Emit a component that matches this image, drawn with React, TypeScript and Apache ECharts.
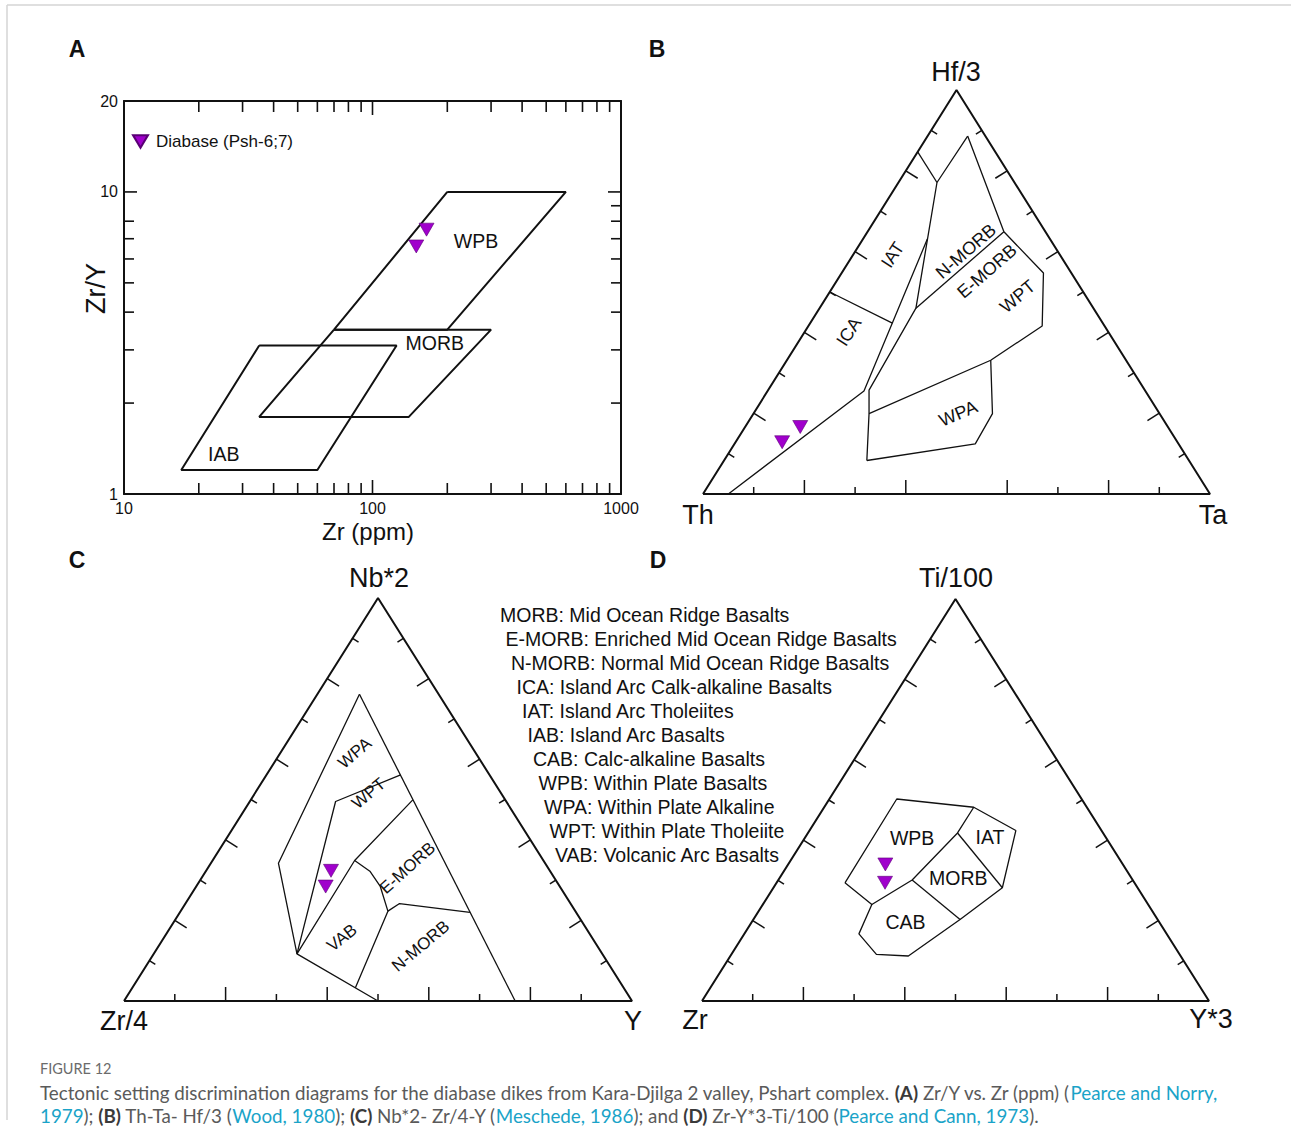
import React, { useEffect, useRef } from 'react';
import * as echarts from 'echarts';

const FONT = "'Liberation Sans', Arial, Helvetica, sans-serif";
const CAPTION_FONT = "Lato, 'Open Sans', 'Liberation Sans', sans-serif";
const INK = '#111111';
const SAMPLE_NAME = 'Diabase (Psh-6;7)';
const SAMPLE_FILL = '#a000cc';
const SAMPLE_EDGE = '#5a0075';
const DOWN_TRIANGLE = 'path://M0,0L20,0L10,17Z';

// ---------------- Panel A : Zr/Y vs Zr (ppm) ----------------
const aZrRange = [10, 1000];
const aZrYRange = [1, 20];
const aFieldWPB = [[200, 10], [600, 10], [200, 3.5], [70, 3.5], [200, 10]];
const aFieldMORB = [[70, 3.5], [300, 3.5], [140, 1.8], [35, 1.8], [70, 3.5]];
const aFieldIAB = [[35, 3.1], [125, 3.1], [60, 1.2], [17, 1.2], [35, 3.1]];
const aSamples = [[165, 7.5], [150, 6.6]];
const aFieldLabels = [
  { text: 'WPB', at: [261, 6.9] },
  { text: 'MORB', at: [178, 3.15] },
  { text: 'IAB', at: [25.2, 1.36] },
];
const aZrMinorTicks = [20, 30, 40, 50, 60, 70, 80, 90, 200, 300, 400, 500, 600, 700, 800, 900];
const aZrMajorTicks = [100];
const aZrYMinorTicksLeft = [2, 3, 4, 5, 6, 7, 8];
const aZrYMinorTicksRight = [2, 3, 4, 5, 6, 7, 8, 9];
const aZrYMajorTicks = [10];

// ---------------- Ternary panels: points are [top, left, right] in % ----------------
const TRI_TOP = [100, 0, 0];
const TRI_LEFT = [0, 100, 0];
const TRI_RIGHT = [0, 0, 100];
const TERN_TICKS = [10, 20, 30, 40, 50, 60, 70, 80, 90];

// Panel B : Th (left) - Ta (right) - Hf/3 (top)
const bFieldLines = [
  [[0, 95, 5], [25.5, 55.5, 19.0], [63.1, 24.2, 12.7]],
  [[88.6, 3.5, 7.9], [77.1, 15.3, 7.6], [46.0, 35.0, 19.0], [25.7, 54.4, 19.9], [19.9, 57.3, 22.8], [8.3, 63.6, 28.2]],
  [[77.1, 15.3, 7.6], [84.7, 15.3, 0]],
  [[50, 50, 0], [42.3, 41.5, 16.2]],
  [[46.0, 35.0, 19.0], [64.9, 8.2, 26.9]],
  [[88.6, 3.5, 7.9], [64.9, 8.2, 26.9], [54.7, 5.5, 39.8], [41.6, 12.3, 46.1], [33.1, 26.7, 40.2], [19.9, 57.3, 22.8]],
  [[33.1, 26.7, 40.2], [19.9, 33.0, 47.2], [12.4, 40.1, 47.5], [8.3, 63.6, 28.2]],
];
const bSamples = [[12.8, 77.9, 9.2], [16.6, 72.6, 10.9]];
const bFieldLabels = [
  { text: 'IAT', at: [59.2, 33.0, 7.8], angle: 57 },
  { text: 'ICA', at: [40.2, 51.2, 8.7], angle: 57 },
  { text: 'N-MORB', at: [60.1, 18.1, 21.8], angle: 41 },
  { text: 'E-MORB', at: [55.1, 16.4, 28.4], angle: 41 },
  { text: 'WPT', at: [48.9, 13.5, 37.6], angle: 40 },
  { text: 'WPA', at: [19.9, 39.7, 40.4], angle: 23 },
];
const bBottomTicks = [10, 20, 30, 40, 60, 70, 80, 90];

// Panel C : Zr/4 (left) - Y (right) - Nb*2 (top)
const cFieldLines = [
  [[76.1, 15.6, 8.3], [34.2, 52.5, 13.3], [11.7, 60.1, 28.2], [0, 50, 50]],
  [[76.1, 15.6, 8.3], [0, 23, 77]],
  [[56.1, 17.5, 26.4], [49.5, 33.6, 16.9], [11.7, 60.1, 28.2]],
  [[49.9, 18.2, 31.9], [34.9, 37.2, 28.0], [11.7, 60.1, 28.2]],
  [[34.9, 37.2, 28.0], [32.2, 35.5, 32.3], [28.4, 35.3, 36.2], [22.3, 36.9, 40.8], [3.3, 52.8, 43.9]],
  [[22.3, 36.9, 40.8], [24.2, 33.7, 42.2], [22.0, 20.9, 57.1]],
];
const cSamples = [[32.3, 43.1, 24.6], [28.4, 46.1, 25.5]];
const cFieldLabels = [
  { text: 'WPA', at: [61.5, 23.8, 14.7], angle: 40 },
  { text: 'WPT', at: [51.5, 26.1, 22.4], angle: 40 },
  { text: 'E-MORB', at: [33.0, 27.7, 39.3], angle: 42 },
  { text: 'VAB', at: [15.7, 49.3, 35.1], angle: 38 },
  { text: 'N-MORB', at: [13.6, 34.8, 51.6], angle: 40 },
];

// Panel D : Zr (left) - Y*3 (right) - Ti/100 (top)
const dFieldLines = [
  [[29.4, 57.1, 13.5], [50.3, 36.5, 13.3], [48.2, 22.3, 29.5], [42.4, 16.9, 40.7], [28.2, 26.7, 45.2],
   [20.3, 39.0, 40.8], [11.2, 53.7, 35.1], [11.6, 59.8, 28.6], [16.7, 60.7, 22.6], [24.0, 54.5, 21.5], [29.4, 57.1, 13.5]],
  [[48.2, 22.3, 29.5], [41.8, 28.7, 29.5], [30.1, 43.5, 26.4], [24.0, 54.5, 21.5]],
  [[41.8, 28.7, 29.5], [28.2, 26.7, 45.2]],
  [[30.1, 43.5, 26.4], [20.3, 39.0, 40.8]],
];
const dSamples = [[34.0, 46.9, 19.2], [29.4, 49.2, 21.4]];
const dFieldLabels = [
  { text: 'WPB', at: [40.6, 38.2, 21.1], angle: 0 },
  { text: 'IAT', at: [40.8, 22.8, 36.4], angle: 0 },
  { text: 'MORB', at: [30.7, 34.1, 35.2], angle: 0 },
  { text: 'CAB', at: [19.6, 50.0, 30.3], angle: 0 },
];

const abbreviations = [
  'MORB: Mid Ocean Ridge Basalts',
  'E-MORB: Enriched Mid Ocean Ridge Basalts',
  'N-MORB: Normal Mid Ocean Ridge Basalts',
  'ICA: Island Arc Calk-alkaline Basalts',
  'IAT: Island Arc Tholeiites',
  'IAB: Island Arc Basalts',
  'CAB: Calc-alkaline Basalts',
  'WPB: Within Plate Basalts',
  'WPA: Within Plate Alkaline',
  'WPT: Within Plate Tholeiite',
  'VAB: Volcanic Arc Basalts',
];

const captionTitle = 'FIGURE 12';
const captionLine1 =
  '{t|Tectonic setting discrimination diagrams for the diabase dikes from Kara-Djilga 2 valley, Pshart complex. }{b|(A)}{t| Zr/Y vs. Zr (ppm) (}{l|Pearce and Norry,}';
const captionLine2 =
  '{l|1979}{t|); }{b|(B)}{t| Th-Ta- Hf/3 (}{l|Wood, 1980}{t|); }{b|(C)}{t| Nb*2- Zr/4-Y (}{l|Meschede, 1986}{t|); and }{b|(D)}{t| Zr-Y*3-Ti/100 (}{l|Pearce and Cann, 1973}{t|).}';

// ---------------- helpers ----------------
const toXY = (p: number[]) => {
  const s = p[0] + p[1] + p[2];
  const t = p[0] / s;
  const r = p[2] / s;
  return [r + t / 2, t];
};

const GRIDS = [
  { left: 124, top: 101, width: 497, height: 393 },
  { left: 703, top: 90, width: 507, height: 404 },
  { left: 124, top: 598, width: 508, height: 403 },
  { left: 702, top: 599, width: 507, height: 402 },
];

function ternTickData(bottom: number[], sides: number[]) {
  const out: number[][] = [];
  bottom.forEach((f) => out.push([0, f, f % 20 === 0 ? 1 : 0]));
  sides.forEach((f) => {
    out.push([1, f, f % 20 === 0 ? 1 : 0]);
    out.push([2, f, f % 20 === 0 ? 1 : 0]);
  });
  return out;
}

const ternTickRender = (_params: any, api: any) => {
  const side = api.value(0);
  const f = api.value(1) / 100;
  const major = api.value(2);
  const L = api.coord(toXY(TRI_LEFT));
  const R = api.coord(toXY(TRI_RIGHT));
  const T = api.coord(toXY(TRI_TOP));
  const seg = side === 0 ? [L, R] : side === 1 ? [L, T] : [R, T];
  const P = seg[0];
  const Q = seg[1];
  const px = P[0] + (Q[0] - P[0]) * f;
  const py = P[1] + (Q[1] - P[1]) * f;
  const dx = Q[0] - P[0];
  const dy = Q[1] - P[1];
  const n = Math.hypot(dx, dy);
  let nx = -dy / n;
  let ny = dx / n;
  const cx = (L[0] + R[0] + T[0]) / 3;
  const cy = (L[1] + R[1] + T[1]) / 3;
  if ((cx - px) * nx + (cy - py) * ny < 0) {
    nx = -nx;
    ny = -ny;
  }
  const len = major ? 14 : 7;
  return {
    type: 'line',
    shape: { x1: px, y1: py, x2: px + nx * len, y2: py + ny * len },
    style: { stroke: INK, lineWidth: 1.5 },
  };
};

function labelSeries(labels: any[], axisIdx: number, isTern: boolean, fontSize: number) {
  return {
    type: 'custom',
    xAxisIndex: axisIdx,
    yAxisIndex: axisIdx,
    silent: true,
    z: 4,
    data: labels.map((l) => (isTern ? toXY(l.at) : l.at)),
    renderItem: (params: any, api: any) => {
      const lab = labels[params.dataIndex];
      const p = api.coord([api.value(0), api.value(1)]);
      return {
        type: 'text',
        x: p[0],
        y: p[1],
        rotation: ((lab.angle || 0) * Math.PI) / 180,
        style: {
          text: lab.text,
          fontSize,
          fontFamily: FONT,
          fill: INK,
          align: 'center',
          verticalAlign: 'middle',
          textAlign: 'center',
          textVerticalAlign: 'middle',
        },
      };
    },
  };
}

function polySeries(data: number[][], axisIdx: number, width: number, z = 2) {
  return {
    type: 'line',
    xAxisIndex: axisIdx,
    yAxisIndex: axisIdx,
    data,
    symbol: 'none',
    clip: false,
    silent: true,
    z,
    lineStyle: { color: INK, width },
    emphasis: { disabled: true },
  };
}

function sampleSeries(data: number[][], axisIdx: number) {
  return {
    type: 'scatter',
    name: SAMPLE_NAME,
    xAxisIndex: axisIdx,
    yAxisIndex: axisIdx,
    data,
    symbol: DOWN_TRIANGLE,
    symbolSize: [15, 13],
    clip: false,
    z: 6,
    itemStyle: { color: SAMPLE_FILL, borderColor: SAMPLE_EDGE, borderWidth: 0.6, opacity: 1 },
  };
}

function ternSeries(axisIdx: number, lines: number[][][], samples: number[][], labels: any[], labelSize: number, bottomTicks: number[]) {
  const out: any[] = [];
  out.push(polySeries([TRI_LEFT, TRI_RIGHT, TRI_TOP, TRI_LEFT].map(toXY), axisIdx, 2, 3));
  lines.forEach((ln) => out.push(polySeries(ln.map(toXY), axisIdx, 1.3)));
  out.push({
    type: 'custom',
    xAxisIndex: axisIdx,
    yAxisIndex: axisIdx,
    silent: true,
    z: 3,
    data: ternTickData(bottomTicks, TERN_TICKS),
    renderItem: ternTickRender,
  });
  out.push(labelSeries(labels, axisIdx, true, labelSize));
  out.push(sampleSeries(samples.map(toXY), axisIdx));
  return out;
}

function aTickData() {
  const out: number[][] = [];
  aZrMinorTicks.forEach((v) => { out.push([0, v, 0]); out.push([1, v, 0]); });
  aZrMajorTicks.forEach((v) => { out.push([0, v, 1]); out.push([1, v, 1]); });
  aZrYMinorTicksLeft.forEach((v) => out.push([2, v, 0]));
  aZrYMinorTicksRight.forEach((v) => out.push([3, v, 0]));
  aZrYMajorTicks.forEach((v) => { out.push([2, v, 1]); out.push([3, v, 1]); });
  return out;
}

const aTickRender = (_params: any, api: any) => {
  const side = api.value(0);
  const v = api.value(1);
  const major = api.value(2);
  let x1, y1, x2, y2;
  if (side < 2) {
    const p = api.coord([v, side === 0 ? aZrYRange[0] : aZrYRange[1]]);
    const len = major ? 14 : 11;
    const dir = side === 0 ? -1 : 1;
    x1 = p[0]; y1 = p[1]; x2 = p[0]; y2 = p[1] + dir * len;
  } else {
    const p = api.coord([side === 2 ? aZrRange[0] : aZrRange[1], v]);
    const len = major ? 13 : 10;
    const dir = side === 2 ? 1 : -1;
    x1 = p[0]; y1 = p[1]; x2 = p[0] + dir * len; y2 = p[1];
  }
  return { type: 'line', shape: { x1, y1, x2, y2 }, style: { stroke: INK, lineWidth: 1.6 } };
};

const txt = (text: string, x: number, y: number, fontSize: number, extra: any = {}) => ({
  type: 'text',
  x,
  y,
  rotation: extra.rotation || 0,
  z: 10,
  silent: true,
  style: {
    text,
    fontSize,
    fontFamily: extra.fontFamily || FONT,
    fontWeight: extra.fontWeight || 'normal',
    fill: extra.fill || INK,
    align: extra.align || 'center',
    verticalAlign: 'middle',
    textAlign: extra.align || 'center',
    textVerticalAlign: 'middle',
  },
});

function buildOption() {
  const logBase = {
    type: 'log',
    logBase: 10,
    splitLine: { show: false },
    axisTick: { show: false },
    minorTick: { show: false },
    axisLine: { show: true, onZero: false, lineStyle: { color: INK, width: 2 } },
  };
  const fmt = (v: number) => `${Math.round(v)}`;
  const hidden = (i: number) => ({ type: 'value', gridIndex: i, min: 0, max: 1, show: false });

  const xAxis = [
    {
      ...logBase, gridIndex: 0, position: 'bottom', min: aZrRange[0], max: aZrRange[1],
      axisLabel: { color: INK, fontSize: 16, margin: 6, formatter: fmt, fontFamily: FONT },
      name: 'Zr (ppm)', nameLocation: 'middle', nameGap: 25, nameMoveOverlap: false,
      nameTextStyle: { color: INK, fontSize: 24, fontFamily: FONT, padding: [0, 9, 0, 0] },
    },
    { ...logBase, gridIndex: 0, position: 'top', min: aZrRange[0], max: aZrRange[1], axisLabel: { show: false } },
    hidden(1), hidden(2), hidden(3),
  ];
  const yAxis = [
    {
      ...logBase, gridIndex: 0, position: 'left', min: aZrYRange[0], max: aZrYRange[1],
      axisLabel: { color: INK, fontSize: 16, margin: 6, formatter: fmt, fontFamily: FONT },
      name: 'Zr/Y', nameLocation: 'middle', nameGap: 15, nameMoveOverlap: false,
      nameTextStyle: { color: INK, fontSize: 27, fontFamily: FONT, padding: [0, 0, 0, 18] },
    },
    { ...logBase, gridIndex: 0, position: 'right', min: aZrYRange[0], max: aZrYRange[1], axisLabel: { show: false } },
    hidden(1), hidden(2), hidden(3),
  ];

  const series: any[] = [
    polySeries(aFieldWPB, 0, 2),
    polySeries(aFieldMORB, 0, 2),
    polySeries(aFieldIAB, 0, 2),
    { type: 'custom', xAxisIndex: 0, yAxisIndex: 0, silent: true, z: 3, data: aTickData(), renderItem: aTickRender },
    labelSeries(aFieldLabels, 0, false, 19.5),
    sampleSeries(aSamples, 0),
    ...ternSeries(2, bFieldLines, bSamples, bFieldLabels, 18, bBottomTicks),
    ...ternSeries(3, cFieldLines, cSamples, cFieldLabels, 17, TERN_TICKS),
    ...ternSeries(4, dFieldLines, dSamples, dFieldLabels, 19.5, TERN_TICKS),
  ];

  const VS = 27;
  const graphicEls: any[] = [
    { type: 'line', shape: { x1: 7, y1: 5, x2: 1291, y2: 5 }, style: { stroke: '#d4d4d4', lineWidth: 1.5 }, silent: true },
    { type: 'line', shape: { x1: 7, y1: 5, x2: 7, y2: 1120 }, style: { stroke: '#d4d4d4', lineWidth: 1.5 }, silent: true },
    txt('A', 77, 49, 23, { fontWeight: 'bold' }),
    txt('B', 657, 49, 23, { fontWeight: 'bold' }),
    txt('C', 77, 560, 23, { fontWeight: 'bold' }),
    txt('D', 658, 560, 23, { fontWeight: 'bold' }),
    txt('Hf/3', 956, 72, VS),
    txt('Th', 698, 515, VS),
    txt('Ta', 1213, 515, VS),
    txt('Nb*2', 379, 578, VS),
    txt('Zr/4', 124, 1021, VS),
    txt('Y', 633, 1021, VS),
    txt('Ti/100', 956, 578, VS),
    txt('Zr', 695, 1020, VS),
    txt('Y*3', 1211, 1019, VS),
    ...abbreviations.map((s, i) => txt(s, 500 + 5.5 * i, 615 + 24 * i, 19.5, { align: 'left' })),
    txt(captionTitle, 40, 1068, 14.5, { align: 'left', fill: '#6b6b6b', fontFamily: CAPTION_FONT }),
  ];
  const CS = 18.8;
  const rich = {
    t: { fill: '#5a5a5a', color: '#5a5a5a', fontSize: CS, fontFamily: CAPTION_FONT },
    b: { fill: '#3a3a3a', color: '#3a3a3a', fontSize: CS, fontFamily: CAPTION_FONT, fontWeight: 'bold' },
    l: { fill: '#1aa3c8', color: '#1aa3c8', fontSize: CS, fontFamily: CAPTION_FONT },
  };
  [captionLine1, captionLine2].forEach((line, i) => {
    graphicEls.push({
      type: 'text', x: 40, y: 1092 + 23 * i, z: 10, silent: true,
      style: { text: line, rich, fontSize: CS, fontFamily: CAPTION_FONT, fill: '#5a5a5a', align: 'left', verticalAlign: 'middle', textAlign: 'left', textVerticalAlign: 'middle' },
    });
  });

  return {
    animation: false,
    backgroundColor: '#ffffff',
    textStyle: { fontFamily: FONT },
    grid: GRIDS.map((g) => ({ ...g, containLabel: false })),
    xAxis,
    yAxis,
    legend: {
      data: [{ name: SAMPLE_NAME, icon: DOWN_TRIANGLE }],
      left: 127,
      top: 128,
      itemWidth: 15,
      itemHeight: 13,
      selectedMode: false,
      textStyle: { color: INK, fontSize: 17, fontFamily: FONT, padding: [0, 0, 0, 3] },
    },
    series,
    graphic: { elements: graphicEls },
  };
}

export default function App() {
  const ref = useRef<HTMLDivElement>(null);
  useEffect(() => {
    if (!ref.current) return;
    const chart = echarts.init(ref.current, undefined, { renderer: 'svg' });
    chart.setOption(buildOption() as any);
    return () => chart.dispose();
  }, []);
  return (
    <div
      ref={ref}
      style={{ position: 'absolute', left: 0, top: 0, width: 1291, height: 1144, background: '#fff' }}
    />
  );
}
